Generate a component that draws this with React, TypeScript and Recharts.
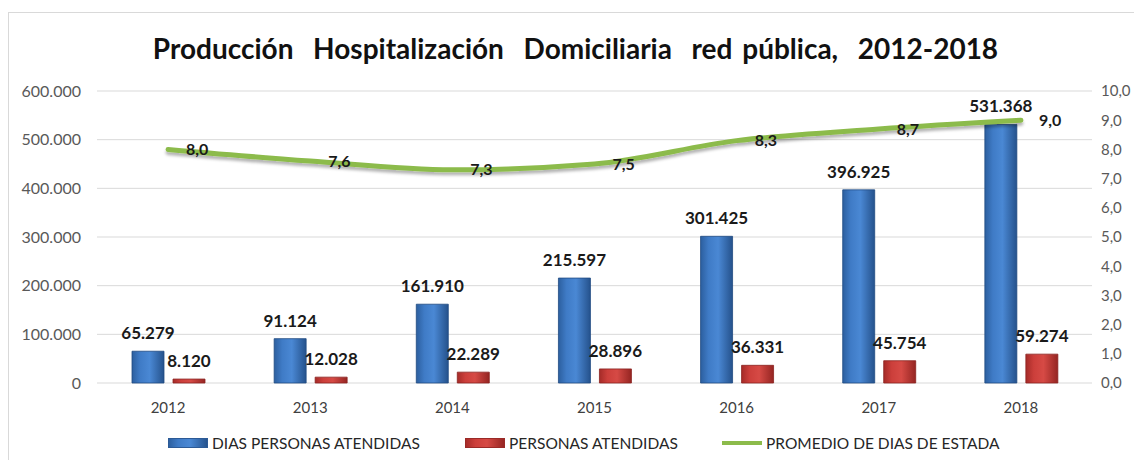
import React from 'react';
import { ComposedChart, Bar, Line, XAxis, YAxis, CartesianGrid, LabelList } from 'recharts';

const years = ['2012', '2013', '2014', '2015', '2016', '2017', '2018'];
const diasPersonas = [65279, 91124, 161910, 215597, 301425, 396925, 531368];
const personasAtendidas = [8120, 12028, 22289, 28896, 36331, 45754, 59274];
const promedioEstada = [8.0, 7.6, 7.3, 7.5, 8.3, 8.7, 9.0];
const leftTicks = [0, 100000, 200000, 300000, 400000, 500000, 600000];
const rightTicks = [0, 1, 2, 3, 4, 5, 6, 7, 8, 9, 10];

const chartData = years.map((year, i) => ({
  year,
  dias: diasPersonas[i],
  personas: personasAtendidas[i],
  promedio: promedioEstada[i],
}));

const FONT = 'Lato, "Open Sans", sans-serif';

const thousands = (v: number) => String(v).replace(/\B(?=(\d{3})+(?!\d))/g, '.');
const oneDecimal = (v: number) => v.toFixed(1).replace('.', ',');

const LineLabel = (props: any) => {
  const { x, y, value } = props;
  return (
    <text x={x + 18} y={y} dy="0.35em" textAnchor="start" fontFamily={FONT} fontWeight={700} fontSize={16} fill="#1a1a1a">
      {oneDecimal(value)}
    </text>
  );
};

// swatch left positions are relative to the bordered box
const legendItems = [
  { label: 'DIAS PERSONAS ATENDIDAS', kind: 'bar', fill: 'url(#blueGrad)', color: '#2c5a96', left: 159 },
  { label: 'PERSONAS ATENDIDAS', kind: 'bar', fill: 'url(#redGrad)', color: '#9a2a27', left: 456 },
  { label: 'PROMEDIO DE DIAS DE ESTADA', kind: 'line', fill: '', color: '#8cbb4b', left: 713 },
];

export default function App() {
  return (
    <div style={{ paddingTop: 4 }}>
      <style>{'html, body { overflow: hidden; }'}</style>
      <div
        style={{
          position: 'relative',
          width: 1126,
          height: 448,
          boxSizing: 'border-box',
          borderTop: '1px solid #d9d9d9',
          borderLeft: '1px solid #d9d9d9',
          background: '#fff',
        }}
      >
        <div
          style={{
            position: 'absolute',
            left: 0,
            top: 18,
            width: 1133,
            textAlign: 'center',
            fontFamily: FONT,
            fontWeight: 700,
            fontSize: 28,
            wordSpacing: 3,
            color: '#111',
            whiteSpace: 'pre',
          }}
        >
          {'Producción  Hospitalización  Domiciliaria  red pública,  2012-2018'}
        </div>
        <ComposedChart
          width={1133}
          height={447}
          data={chartData}
          margin={{ top: 78, right: 0, bottom: 47, left: 0 }}
          barSize={32}
          barGap={9}
          style={{ overflow: 'visible' }}
        >
          <defs>
            <linearGradient id="blueGrad" x1="0" y1="0" x2="1" y2="0">
              <stop offset="0%" stopColor="#2c5f9f" />
              <stop offset="25%" stopColor="#3f7bc6" />
              <stop offset="55%" stopColor="#4a88d4" />
              <stop offset="100%" stopColor="#25528c" />
            </linearGradient>
            <linearGradient id="redGrad" x1="0" y1="0" x2="1" y2="0">
              <stop offset="0%" stopColor="#a52b28" />
              <stop offset="25%" stopColor="#cc3f3b" />
              <stop offset="55%" stopColor="#d64a45" />
              <stop offset="100%" stopColor="#952522" />
            </linearGradient>
            <filter id="lineShadow" x="-5%" y="-50%" width="110%" height="200%">
              <feDropShadow dx="0" dy="3" stdDeviation="1.5" floodColor="#000" floodOpacity="0.3" />
            </filter>
          </defs>
          <CartesianGrid yAxisId="left" horizontal vertical={false} stroke="#d9d9d9" />
          <XAxis
            dataKey="year"
            axisLine={false}
            tickLine={false}
            tickSize={0}
            tickMargin={19}
            height={30}
            tick={{ fontFamily: FONT, fontSize: 15, fill: '#404040' }}
          />
          <YAxis
            yAxisId="left"
            domain={[0, 600000]}
            ticks={leftTicks}
            axisLine={false}
            tickLine={false}
            tickSize={0}
            tickMargin={16}
            width={88}
            tickFormatter={thousands}
            tick={{ fontFamily: FONT, fontSize: 16, fill: '#595959' }}
          />
          <YAxis
            yAxisId="right"
            orientation="right"
            domain={[0, 10]}
            ticks={rightTicks}
            axisLine={false}
            tickLine={false}
            tickSize={0}
            tickMargin={9}
            width={50}
            tickFormatter={oneDecimal}
            tick={{ fontFamily: FONT, fontSize: 15, fill: '#595959' }}
          />
          <Bar yAxisId="left" dataKey="dias" fill="url(#blueGrad)" stroke="#1f4a82" strokeWidth={0.8} isAnimationActive={false}>
            <LabelList
              dataKey="dias"
              position="top"
              offset={12}
              formatter={(v: any) => thousands(Number(v))}
              style={{ fontFamily: FONT, fontWeight: 700, fontSize: 17, fill: '#1a1a1a' }}
            />
          </Bar>
          <Bar yAxisId="left" dataKey="personas" fill="url(#redGrad)" stroke="#8a2220" strokeWidth={0.8} isAnimationActive={false}>
            <LabelList
              dataKey="personas"
              position="top"
              offset={12}
              formatter={(v: any) => thousands(Number(v))}
              style={{ fontFamily: FONT, fontWeight: 700, fontSize: 17, fill: '#1a1a1a' }}
            />
          </Bar>
          <Line
            yAxisId="right"
            type="monotone"
            dataKey="promedio"
            stroke="#8cbb4b"
            strokeWidth={5}
            strokeLinecap="round"
            dot={false}
            activeDot={false}
            filter="url(#lineShadow)"
            isAnimationActive={false}
          >
            <LabelList dataKey="promedio" content={<LineLabel />} />
          </Line>
        </ComposedChart>
        {legendItems.map((item) => (
          <div
            key={item.label}
            style={{
              position: 'absolute',
              left: item.left,
              top: 421,
              display: 'flex',
              alignItems: 'center',
              gap: 4,
              fontFamily: FONT,
              fontSize: 15.5,
              color: '#262626',
              whiteSpace: 'nowrap',
            }}
          >
            <svg width={40} height={10}>
              {item.kind === 'bar' ? (
                <rect x={0.5} y={0.5} width={39} height={9} fill={item.fill} stroke={item.color} strokeWidth={1} />
              ) : (
                <line x1={0} y1={5} x2={40} y2={5} stroke={item.color} strokeWidth={4} />
              )}
            </svg>
            <span>{item.label}</span>
          </div>
        ))}
      </div>
    </div>
  );
}
